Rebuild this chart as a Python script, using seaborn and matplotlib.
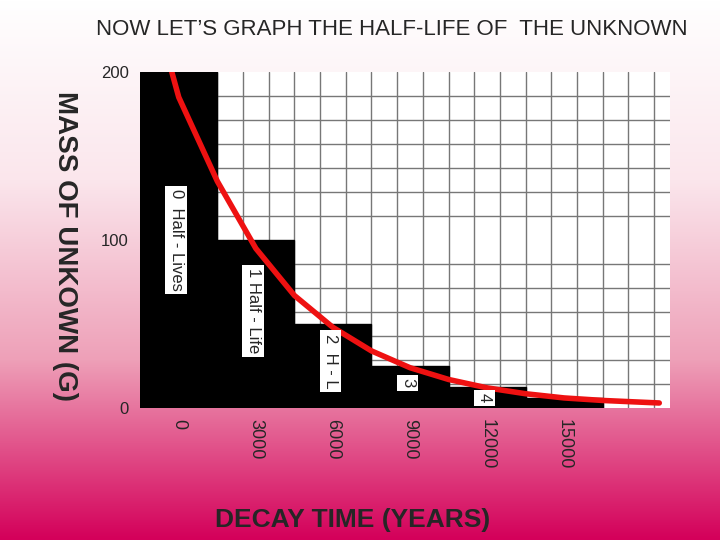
import numpy as np
import pandas as pd
import matplotlib
matplotlib.use("Agg")
import matplotlib.pyplot as plt
import seaborn as sns
from matplotlib.colors import LinearSegmentedColormap

sns.set_theme(style="white")
plt.rcParams['font.family'] = ['Liberation Sans', 'DejaVu Sans']

years = [0, 3000, 6000, 9000, 12000, 15000]
mass = [200, 100, 50, 25, 12.5, 6.25]
bar_labels = ["0  Half - Lives", "1 Half - Life", "2  H - L", "3", "4", ""]
curve_t = [-270, 0, 1500, 3000, 4500, 6000, 7500, 9000, 10500, 12000, 13500, 15000, 16500, 18700]
curve_m = [200, 185, 135, 95, 67, 48, 34, 24, 17, 12, 8.5, 6, 4.5, 3]

fig = plt.figure(figsize=(7.2, 5.4), dpi=100)
bg = fig.add_axes([0, 0, 1, 1], zorder=-10)
cmap = LinearSegmentedColormap.from_list("g", ["#ffffff", "#fbe6ec", "#eea0b8", "#d4005a"])
bg.imshow(np.linspace(0, 1, 256).reshape(-1, 1), aspect="auto", cmap=cmap, extent=[0, 1, 0, 1])
bg.axis("off")

ax = fig.add_axes([0.194, 0.2444, 0.737, 0.6223])
ax.set_facecolor("white")
df = pd.DataFrame({"t": years, "m": mass})
sns.barplot(data=df, x="t", y="m", native_scale=True, width=1.0, color="black",
            saturation=1, ax=ax, zorder=3)
for p in ax.patches:
    p.set_facecolor("black"); p.set_edgecolor("black")
sns.lineplot(x=curve_t, y=curve_m, color="#ee1111", linewidth=4, ax=ax, zorder=5)

ax.set_xlim(-1520, 19130)
ax.set_ylim(0, 200)
ax.set_xticks(years)
ax.set_xticklabels([str(y) for y in years], rotation=270, fontsize=13)
ax.set_yticks([0, 100, 200])
ax.set_yticklabels(["0", "100", "200"], fontsize=12)
ax.set_xticks(np.arange(1500, 19130, 1000), minor=True)
ax.set_yticks(np.linspace(0, 200, 15), minor=True)
ax.grid(which="minor", color="#777777", linewidth=1, zorder=1)
ax.set_axisbelow(True)
ax.tick_params(which="both", length=0, pad=8)
for s in ax.spines.values():
    s.set_visible(False)
ax.set_xlabel("")
ax.set_ylabel("")

label_y = [100, 58, 28, 15, 6]
for t, lab, y in zip(years, bar_labels, label_y):
    if lab:
        ax.text(t - 100, y, lab, rotation=270, ha="center", va="center", fontsize=12,
                zorder=6, bbox=dict(boxstyle="square,pad=0.2", fc="white", ec="none"))

fig.text(0.133, 0.945, "NOW LET\u2019S GRAPH THE HALF-LIFE OF  THE UNKNOWN", fontsize=16, ha="left", va="center")
fig.text(0.09, 0.545, "MASS OF UNKOWN (G)", rotation=270, fontsize=20, fontweight="bold", ha="center", va="center")
fig.text(0.49, 0.037, "DECAY TIME (YEARS)", fontsize=19, fontweight="bold", ha="center", va="center")

fig.savefig("out.png", dpi=100)
